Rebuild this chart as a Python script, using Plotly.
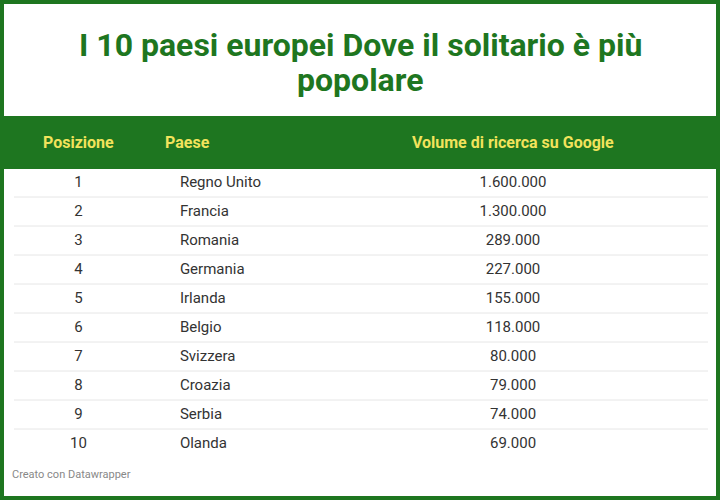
import plotly.graph_objects as go

GREEN = "#1e7620"
YELLOW = "#f2e35c"

posizioni = [str(i) for i in range(1, 11)]
paesi = ["Regno Unito", "Francia", "Romania", "Germania", "Irlanda",
         "Belgio", "Svizzera", "Croazia", "Serbia", "Olanda"]
volumi = ["1.600.000", "1.300.000", "289.000", "227.000", "155.000",
          "118.000", "80.000", "79.000", "74.000", "69.000"]
intestazioni = ["Posizione", "Paese", "Volume di ricerca su Google", ""]
titolo = ["I 10 paesi europei Dove il solitario è più", "popolare"]

W, H = 720, 500
BAND, TOP, HEAD_H, ROW_H = 116, 125, 43, 29
bottom = TOP + HEAD_H + ROW_H * len(paesi)

fig = go.Figure(go.Table(
    domain=dict(x=[0, 1], y=[1 - bottom / H, 1 - TOP / H]),
    columnwidth=[157, 175, 362, 26],
    header=dict(
        values=[f"<b>{h}</b>" for h in intestazioni],
        fill_color=GREEN, line_color=GREEN, height=HEAD_H,
        align=["center", "left", "center", "center"],
        font=dict(family="Roboto", size=16, color=YELLOW),
    ),
    cells=dict(
        values=[posizioni, ["    " + p for p in paesi], volumi, [""] * len(paesi)],
        fill_color="white", line_color="white", height=ROW_H,
        align=["center", "left", "center", "center"],
        font=dict(family="Roboto", size=15, color="#333333"),
    ),
))

shapes = [
    dict(type="rect", xref="paper", yref="paper", x0=0, x1=1,
         y0=1 - TOP / H, y1=1 - BAND / H, fillcolor=GREEN, line_width=0),
    dict(type="rect", xref="paper", yref="paper", x0=0, x1=1, y0=0, y1=1,
         line=dict(color=GREEN, width=8), fillcolor="rgba(0,0,0,0)"),
]
for i in range(1, len(paesi)):
    y = 1 - (TOP + HEAD_H + ROW_H * i) / H
    shapes.append(dict(type="line", xref="paper", yref="paper",
                       x0=14 / W, x1=708 / W, y0=y, y1=y,
                       line=dict(color="#e6e6e6", width=1)))

annotations = [
    dict(text=f"<b>{t}</b>", x=0.5, y=1 - yc / H, xref="paper", yref="paper",
         yanchor="middle", showarrow=False,
         font=dict(family="Roboto", size=32, color=GREEN))
    for t, yc in zip(titolo, [45, 80])
]
annotations.append(
    dict(text="Creato con Datawrapper", x=10 / W, y=1 - 483 / H,
         xref="paper", yref="paper", xanchor="left", showarrow=False,
         font=dict(family="Roboto", size=11, color="#888888")))

fig.update_layout(
    width=W, height=H, margin=dict(l=0, r=0, t=0, b=0),
    paper_bgcolor="white", shapes=shapes, annotations=annotations,
)
fig.write_html("out.html", config={"displayModeBar": False},
               post_script="document.body.style.margin='0';")
